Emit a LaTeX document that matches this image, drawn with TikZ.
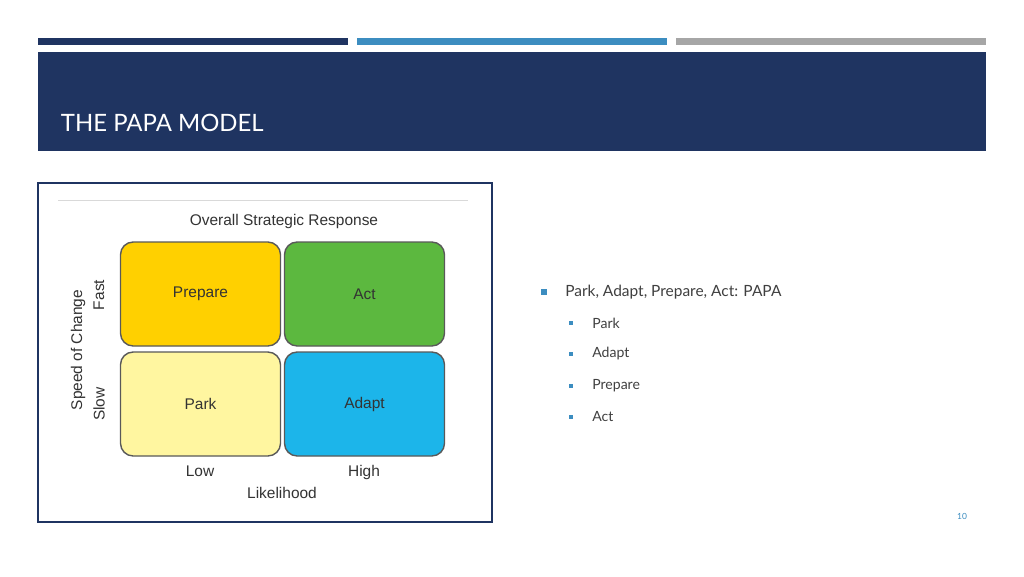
\documentclass[tikz,border=0pt]{standalone}
\usepackage{fontspec}
\setmainfont{Lato}
\newfontfamily\arialfont{Liberation Sans}
\usetikzlibrary{positioning}
\definecolor{navy}{HTML}{1F3461}
\definecolor{barblue}{HTML}{3C8DC0}
\definecolor{bargrey}{HTML}{A6A6A6}
\definecolor{gold}{HTML}{FFD000}
\definecolor{grass}{HTML}{5CB83F}
\definecolor{pale}{HTML}{FFF6A0}
\definecolor{sky}{HTML}{1CB5EA}
\tikzset{
  quad/.style={draw=black!65, line width=1pt, rounded corners=9pt, minimum width=40mm, minimum height=26mm, font=\arialfont\fontsize{11}{13}\selectfont, text=black!80},
  axis/.style={font=\arialfont\fontsize{11}{13}\selectfont, text=black!80},
  bullet/.style={fill=barblue, minimum size=4pt, inner sep=0pt},
  item/.style={font=\fontsize{11}{13}\selectfont, text=black!75, anchor=west, inner sep=0pt}
}
\begin{document}
\begin{tikzpicture}[x=0.25mm,y=-0.25mm]
\useasboundingbox (0,0) rectangle (1024,576);
\fill[white] (0,0) rectangle (1024,576);

% bars and banner
\fill[navy] (38,38) rectangle (348,45);
\fill[barblue] (357,38) rectangle (667,45);
\fill[bargrey] (676,38) rectangle (986,45);
\fill[navy] (38,52) rectangle (986,151);
\node[anchor=west, text=white, font=\fontsize{17}{20}\selectfont] (title) at (56,123) {THE PAPA MODEL};

% picture frame
\draw[navy, line width=1.2pt] (38,183) rectangle (492,522);
\draw[black!15] (58,200) -- (468,200);
\node[axis] (head) at (284,221) {Overall Strategic Response};

\node[quad, fill=gold] (prepare) at (200.5,294) {Prepare};
\node[quad, fill=grass] (act) at (364.5,294) {Act};
\node[quad, fill=pale] (park) at (200.5,404) {Park};
\node[quad, fill=sky] (adapt) at (364.5,404) {Adapt};

\node[axis, rotate=90] (speed) at (78,350) {Speed of Change};
\node[axis, rotate=90] (fast) at (99,295) {Fast};
\node[axis, rotate=90] (slow) at (99,404) {Slow};
\node[axis] (low) at (200,471) {Low};
\node[axis] (high) at (364,472) {High};
\node[axis] (likely) at (282,493) {Likelihood};

% bullets
\node[bullet] (b0) at (544,292) {};
\node[item] (t0) at (565,292) {Park, Adapt, Prepare, Act: PAPA};
\foreach \y/\txt [count=\i] in {323/Park,354/Adapt,386/Prepare,417/Act}{
  \node[bullet, minimum size=3.5pt] (b\i) at (571,\y) {};
  \node[item, font=\fontsize{10}{12}\selectfont] (t\i) at (592,\y) {\txt};
}
\node[text=barblue, font=\fontsize{6}{7}\selectfont] (page) at (962,516) {10};
\end{tikzpicture}
\end{document}
